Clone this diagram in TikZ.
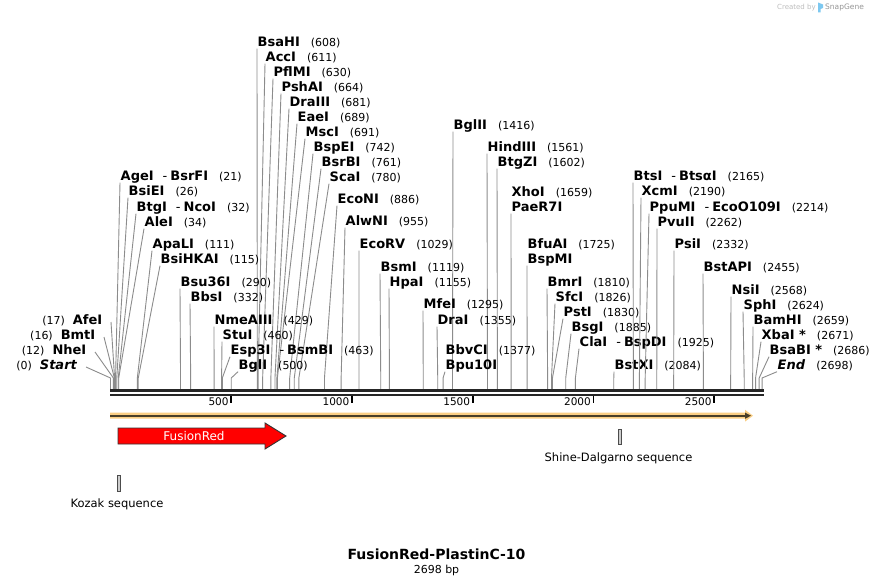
\documentclass[tikz,border=0pt]{standalone}
\usepackage{fontspec}
\setmainfont{DejaVu Sans}
\usepackage{tikz}
\usetikzlibrary{positioning}
\definecolor{cutgray}{rgb}{0.55, 0.55, 0.55}
\definecolor{bbone}{rgb}{0.15, 0.15, 0.15}
\definecolor{orangeband}{RGB}{250, 206, 132}
\definecolor{orangeline}{RGB}{72, 62, 40}
\definecolor{featgray}{RGB}{205, 205, 205}
\definecolor{fred}{RGB}{255, 0, 0}
\definecolor{logoblue}{RGB}{125, 200, 240}
\definecolor{sglight}{RGB}{190, 190, 190}
\definecolor{sgdark}{RGB}{150, 150, 150}
\newcommand{\sitepos}[1]{{\fontsize{11}{12}\selectfont\mdseries #1}}
\newcommand{\enzdash}{\hspace{9pt}{\mdseries -}\hspace{3pt}}

\begin{document}
\begin{tikzpicture}[x=1pt, y=-1pt,
		enzyme/.style={anchor=base west, inner sep=0.5pt, text depth=1.5pt, font=\fontsize{13}{14}\selectfont\bfseries},
		cutline/.style={cutgray, line width=0.9pt},
		ticklabel/.style={anchor=east, inner sep=0pt, font=\fontsize{10.5}{12}\selectfont},
		feature/.style={font=\fontsize{11.5}{13}\selectfont},
		featbox/.style={draw=black!70, fill=featgray, line width=0.8pt}]
		\fill[white] (0,0) rectangle (874,586);
		\useasboundingbox (0,0) rectangle (874,586);
		% enzymes, label to the right of the cut line
		\foreach \bp/\lx/\cy/\name/\num [count=\i] in {
			608/257/42/BsaHI/(608), 611/265/57/AccI/(611), 630/273/72/PflMI/(630),
			664/281/87/PshAI/(664), 681/289/102/DraIII/(681), 689/297/117/EaeI/(689),
			691/305/132/MscI/(691), 742/313/147/BspEI/(742), 761/321/162/BsrBI/(761),
			780/329/177/ScaI/(780), 886/337/199/EcoNI/(886), 955/345/221/AlwNI/(955),
			1029/359/244/EcoRV/(1029), 1119/380/267/BsmI/(1119), 1155/389/282/HpaI/(1155),
			21/120/176/AgeI\enzdash BsrFI/(21), 26/128/191/BsiEI/(26),
			32/136/207/BtgI\enzdash NcoI/(32), 34/144/222/AleI/(34),
			111/152/244/ApaLI/(111), 115/160/259/BsiHKAI/(115),
			290/180/282/Bsu36I/(290), 332/190/297/BbsI/(332),
			429/214/320/NmeAIII/(429), 460/222/335/StuI/(460),
			463/230/350/Esp3I\enzdash BsmBI/(463), 500/238/365/BglI/(500),
			1416/453/125/BglII/(1416), 1561/487/147/HindIII/(1561), 1602/497/162/BtgZI/(1602),
			1659/511/207/PaeR7I/, 1725/527/259/BspMI/,
			1810/547/282/BmrI/(1810), 1826/555/297/SfcI/(1826), 1830/563/312/PstI/(1830),
			1885/571/327/BsgI/(1885), 1925/579/342/ClaI\enzdash BspDI/(1925),
			2084/614/365/BstXI/(2084), 1295/423/304/MfeI/(1295), 1355/437/320/DraI/(1355),
			1377/445/365/Bpu10I/,
			2165/633/176/BtsI\enzdash BtsαI/(2165), 2190/641/191/XcmI/(2190),
			2214/649/207/PpuMI\enzdash EcoO109I/(2214), 2262/657/222/PvuII/(2262),
			2332/674/244/PsiI/(2332), 2455/703/267/BstAPI/(2455), 2568/731/290/NsiI/(2568),
			2624/743/305/SphI/(2624), 2659/753/320/BamHI/(2659), 2671/761/335/XbaI~*/(2671),
			2686/769/350/BsaBI~*/(2686), 2698/777/365/\textit{End}/(2698)}{
			\node[enzyme] (e\i) at ({\lx},{\cy+4.5}) {\name\hspace{11pt}\sitepos{\num}};
			\coordinate (k\i) at ({110.5+0.2415*\bp},378);
			\coordinate (s\i) at ({110.5+0.2415*\bp},389);
			\draw[cutline] (e\i.south west) -- (k\i) -- (s\i);
		}
		% second names of the two-line labels
		\node[enzyme] (xho) at (511,196.5) {XhoI\hspace{11pt}\sitepos{(1659)}};
		\node[enzyme] (bfua) at (527,248.5) {BfuAI\hspace{11pt}\sitepos{(1725)}};
		\node[enzyme] (bbvc) at (445,354.5) {BbvCI\hspace{11pt}\sitepos{(1377)}};
		% enzymes, label to the left
		\foreach \bp/\rx/\cy/\name/\num [count=\i] in {
			0/78/365/\textit{Start}/(0), 12/87/350/NheI/(12),
			16/96/335/BmtI/(16), 17/103/320/AfeI/(17)}{
			\node[enzyme, anchor=base east] (w\i) at ({\rx},{\cy+4.5}) {\sitepos{\num}\hspace{8pt}\name};
			\coordinate (wk\i) at ({110.5+0.2415*\bp},378);
			\coordinate (ws\i) at ({110.5+0.2415*\bp},389);
			\draw[cutline] ([shift={(8,-2.5)}]w\i.base east) -- (wk\i) -- (ws\i);
		}
		% backbone and ruler
		\draw[bbone, line width=2.8pt] (110,390.6) -- (764,390.6);
		\draw[bbone, line width=2.5pt] (110,394.8) -- (764,394.8);
		\foreach \t in {500,1000,1500,2000,2500}{
			\coordinate (t\t) at ({110.5+0.2415*\t},396);
			\draw[black, line width=1.8pt] (t\t) -- ++(0,7);
			\node[ticklabel] (tl\t) at ({108+0.2415*\t},401.5) {\t};
		}
		% open reading frame
		\fill[orangeband] (110,412.7) -- (745,412.7) -- (745,409.8) -- (753,415.7)
			-- (745,421.6) -- (745,418.7) -- (110,418.7) -- cycle;
		\draw[orangeline, line width=1.7pt] (110,415.7) -- (747,415.7);
		\fill[orangeline] (745,412.6) -- (751,415.7) -- (745,418.8) -- cycle;
		% FusionRed
		\draw[draw=black!80, fill=fred, line width=0.9pt] (118,428) -- (265,428) -- (265,423)
			-- (286,436) -- (265,449) -- (265,444) -- (118,444) -- cycle;
		\node[font=\fontsize{12}{14}\selectfont, text=white] (fusionred) at (194,436) {FusionRed};
		% small features
		\draw[featbox] (618,429) rectangle (621,444);
		\node[feature] (shine) at (618.5,458) {Shine-Dalgarno sequence};
		\draw[featbox] (117,475.5) rectangle (120,491.5);
		\node[feature] (kozak) at (117,504) {Kozak sequence};
		% title
		\node[font=\fontsize{14}{16}\selectfont\bfseries] (title) at (436.5,554.5) {FusionRed-PlastinC-10};
		\node[font=\fontsize{11}{13}\selectfont] (length) at (436.5,570) {2698 bp};
		% mark
		\node[anchor=west, inner sep=0pt, font=\fontsize{7}{8}\selectfont, text=sglight] (created) at (777,7.5) {Created by};
		\fill[logoblue] (818,2.5) -- (823,4.5) -- (823,8) -- (820.5,9) -- (820.5,12.5) -- (818,12.5) -- cycle;
		\node[anchor=west, inner sep=0pt, font=\fontsize{7.5}{8}\selectfont, text=sgdark] (snapgene) at (825,7.5) {SnapGene};
	\end{tikzpicture}
\end{document}
